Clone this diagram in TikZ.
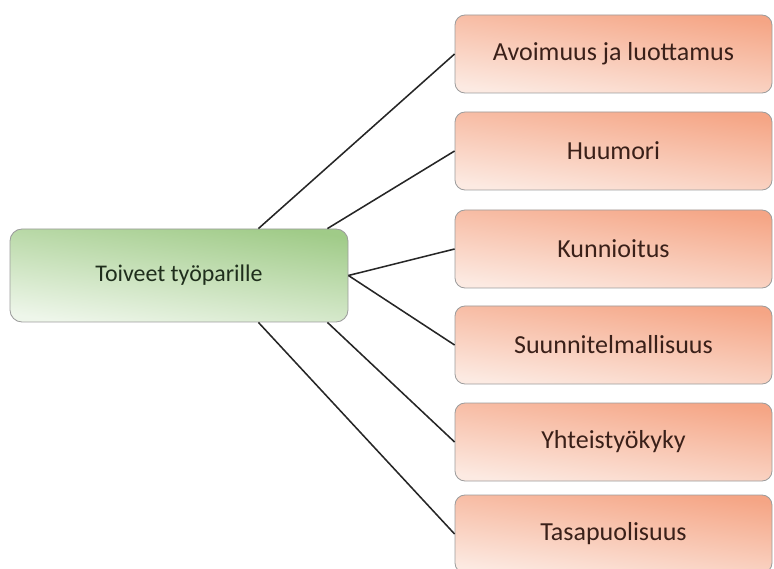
\documentclass[tikz,border=0pt]{standalone}
\usepackage{fontspec}
\setmainfont{Carlito}
\usepackage{tikz}
\usepackage{xcolor}
\usetikzlibrary{calc}
\definecolor{leafgreen}{HTML}{A0CB88}
\definecolor{leafpale} {HTML}{EEF6EA}
\definecolor{salmon}   {HTML}{F5A585}
\definecolor{salmonpale}{HTML}{FCEAE2}
\definecolor{edgegray} {HTML}{9C9C9C}
\definecolor{ink}      {HTML}{262626}
\definecolor{greenink} {HTML}{1F2E1C}
\definecolor{brownink} {HTML}{3A2019}
\tikzset{
  rootbox/.style ={draw=edgegray, line width=0.6pt, rounded corners=0.3cm,
                   top color=leafgreen, middle color=leafgreen!90!white,
                   bottom color=leafpale, shading angle=-8,
                   minimum width=8.45cm, minimum height=2.325cm,
                   align=center, text=greenink, font=\fontsize{17}{20}\selectfont},
  leafbox/.style ={draw=edgegray, line width=0.6pt, rounded corners=0.25cm,
                   top color=salmon, middle color=salmon!88!white,
                   bottom color=salmonpale, shading angle=-8,
                   minimum width=7.925cm, minimum height=1.95cm,
                   align=center, text=brownink, font=\fontsize{18.5}{21}\selectfont},
  linkline/.style={draw=ink, line width=1.1pt},
}
\begin{document}
\begin{tikzpicture}[x=1cm,y=1cm]
        \useasboundingbox (0,0) rectangle (19.35,14.2);

        % root
        \node[rootbox] (toive) at (4.475,7.3125) {Toiveet työparille};

        % branches
        \node[leafbox] (avoin)  at (15.3375,12.85)  {Avoimuus ja luottamus};
        \node[leafbox] (huumor) at (15.3375,10.425) {Huumori};
        \node[leafbox] (kunn)   at (15.3375,7.975)  {Kunnioitus};
        \node[leafbox] (suunn)  at (15.3375,5.575)  {Suunnitelmallisuus};
        \node[leafbox] (yhteis) at (15.3375,3.15)   {Yhteistyökyky};
        \node[leafbox] (tasa)   at (15.3375,0.85)   {Tasapuolisuus};

        % start points on the root
        \coordinate (tn1) at ($(toive.north east)+(-2.25,0)$);
        \coordinate (tn2) at ($(toive.north east)+(-0.525,0)$);
        \coordinate (ts1) at ($(toive.south east)+(-2.25,0)$);
        \coordinate (ts2) at ($(toive.south east)+(-0.525,0)$);

        % connectors
        \draw[linkline] (tn1) -- (avoin.west);
        \draw[linkline] (tn2) -- (huumor.west);
        \draw[linkline] (toive.east) -- (kunn.west);
        \draw[linkline] (toive.east) -- (suunn.west);
        \draw[linkline] (ts2) -- (yhteis.west);
        \draw[linkline] (ts1) -- (tasa.west);
      \end{tikzpicture}
\end{document}
